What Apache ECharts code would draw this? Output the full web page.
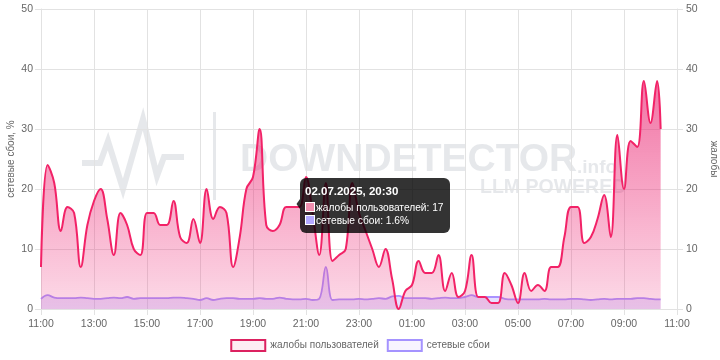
<!DOCTYPE html>
<html>
<head>
<meta charset="utf-8">
<script src="https://cdn.jsdelivr.net/npm/echarts@6/dist/echarts.min.js"></script>
<style>
html,body{margin:0;padding:0;background:#fff;}
#c{width:720px;height:360px;}
</style>
</head>
<body>
<div id="c"></div>
<script>
// time of each sample (02.07.2025 11:00 -> 03.07.2025 10:23)
const times = [
 '11:00','11:15','11:30','11:45','12:00','12:15','12:30','12:45',
 '13:00','13:15','13:30','13:45','14:00','14:15','14:30','14:45',
 '15:00','15:15','15:30','15:45','16:00','16:15','16:30','16:45',
 '17:00','17:15','17:30','17:45','18:00','18:15','18:30','18:45',
 '19:00','19:15','19:30','19:45','20:00','20:15','20:30','20:45',
 '21:00','21:15','21:30','21:45','22:00','22:15','22:30','22:45',
 '23:00','23:15','23:30','23:45','00:00','00:15','00:30','00:45',
 '01:00','01:15','01:30','01:45','02:00','02:15','02:30','02:45',
 '03:00','03:15','03:30','03:45','04:00','04:15','04:30','04:45',
 '05:00','05:15','05:30','05:45','06:00','06:15','06:30','06:45',
 '07:00','07:15','07:30','07:45','08:00','08:15','08:30','08:45',
 '09:00','09:15','09:30','09:45','10:00','10:15','10:23'
];
// жалобы пользователей
const complaints = [
 7,24,21,13,17,16,7,14,18,20,
 15,9,16,14,10,9,16,16,14,14,
 18,12,11,15,11,20,15,17,16,7,
 12,20,22,30,14,13,14,17,17,17,
 22,16,9,21,8,9,10,21,16,13,
 10,7,10,5,0,3,4,8,6,6,
 9,3,6,2,3,9,2,2,1,1,
 6,4,1,6,3,4,3,7,7,12,
 17,17,11,12,15,19,12,29,20,28,
 27,38,31,38,30
];
// сетевые сбои, %
const failures = [
 1.7,2.3,1.9,1.8,1.8,1.8,1.9,1.8,1.7,1.7,
 1.8,1.9,1.8,2.0,1.7,1.8,1.8,1.8,1.8,1.8,
 1.9,1.9,1.8,1.7,1.5,1.8,1.5,1.7,1.8,1.8,
 1.7,1.7,1.7,1.8,1.7,1.7,1.9,1.7,1.6,1.6,
 1.7,1.5,1.7,7.0,1.5,1.6,1.6,1.6,1.7,1.6,
 1.7,1.8,1.7,2.1,2.2,1.8,1.8,1.8,1.8,1.7,
 1.8,1.9,1.8,1.8,2.0,2.3,2.0,2.0,2.0,2.0,
 1.7,1.6,1.6,1.6,1.6,1.6,1.7,1.6,1.6,1.6,
 1.7,1.7,1.6,1.5,1.6,1.7,1.6,1.7,1.7,1.7,
 1.8,1.8,1.7,1.6,1.6
];
const seriesNames = ['жалобы пользователей', 'сетевые сбои'];
const yTicks = [0, 10, 20, 30, 40, 50];
const startHour = 11;
const tipIndex = 38;

function toMin(t) {
  const p = t.split(':');
  const m = (+p[0]) * 60 + (+p[1]) - startHour * 60;
  return (m + 1440) % 1440;
}
const xs = times.map(toMin);
const complaintData = xs.map((x, i) => [x, complaints[i]]);
const failureData = xs.map((x, i) => [x, failures[i]]);

const FONT = 'Liberation Sans, Arial, sans-serif';
const GRID = '#e2e2e2';
const LBL = '#666';
const WM = 'rgba(200,204,210,0.45)';

const chart = echarts.init(document.getElementById('c'), null, {renderer: 'canvas'});
chart.setOption({
  animation: false,
  textStyle: {fontFamily: FONT},
  grid: {left: 41, right: 43, top: 9, bottom: 51, containLabel: false, outerBoundsMode: 'none'},
  graphic: {
    elements: [
      {type: 'polyline', silent: true, z: 0,
       shape: {points: [[82,163],[100,163],[108,141],[123,189],[143,119],[157,176],[164,157],[184,157]]},
       style: {stroke: WM, lineWidth: 6, fill: null, lineJoin: 'miter'}},
      {type: 'rect', silent: true, z: 0, shape: {x: 213, y: 112, width: 3, height: 88}, style: {fill: WM}},
      {type: 'text', silent: true, z: 0, left: 240, top: 141,
       style: {text: 'DOWNDETECTOR', font: 'bold 39px ' + FONT, fill: WM}},
      {type: 'text', silent: true, z: 0, left: 577, top: 158,
       style: {text: '.info', font: 'bold 19px ' + FONT, fill: WM}},
      {type: 'text', silent: true, z: 0, left: 480, top: 178,
       style: {text: 'LLM POWERED', font: 'bold 19.5px ' + FONT, fill: WM}},
      // tooltip pointer arrow
      {type: 'polygon', silent: true, z: 100,
       shape: {points: [[296.5, 204], [300, 199], [300, 209]]},
       style: {fill: 'rgba(0,0,0,0.8)'}}
    ]
  },
  legend: {
    top: 334, left: 'center',
    itemWidth: 34, itemHeight: 11, itemGap: 8,
    icon: 'rect',
    textStyle: {color: LBL, fontSize: 10, fontFamily: FONT},
    data: [
      {name: seriesNames[0], itemStyle: {color: 'rgba(225,30,96,0.08)', borderColor: '#dc2160', borderWidth: 2}},
      {name: seriesNames[1], itemStyle: {color: 'rgba(150,130,255,0.08)', borderColor: '#a593ff', borderWidth: 2}}
    ]
  },
  tooltip: {
    trigger: 'axis',
    axisPointer: {type: 'none'},
    backgroundColor: 'rgba(0,0,0,0.8)',
    borderWidth: 0,
    padding: [6, 6, 6, 5],
    position: function () { return [300, 178]; },
    extraCssText: 'border-radius:6px;box-shadow:none;',
    formatter: function (params) {
      const i = params[0].dataIndex;
      const date = xs[i] < 780 ? '02.07.2025' : '03.07.2025';
      const box = (c) => '<span style="display:inline-block;width:10px;height:10px;background:' + c + ';border:1px solid #fff;box-sizing:border-box;vertical-align:-1px;margin-right:1px"></span>';
      return '<div style="font-family:' + FONT + ';color:#fff;font-size:10.2px;line-height:13px">' +
        '<div style="font-weight:bold;font-size:11.5px;line-height:14px;margin-bottom:3px">' + date + ', ' + times[i] + '</div>' +
        '<div>' + box('#f08fb0') + seriesNames[0] + ': ' + complaints[i] + '</div>' +
        '<div>' + box('#b3a8ff') + seriesNames[1] + ': ' + failures[i] + '%</div>' +
        '</div>';
    }
  },
  xAxis: {
    type: 'value', min: 0, max: 1440, interval: 120,
    axisLine: {show: true, lineStyle: {color: GRID}},
    axisTick: {show: true, length: 6, lineStyle: {color: GRID}},
    splitLine: {show: true, lineStyle: {color: GRID}},
    axisLabel: {
      color: LBL, fontSize: 10.5, margin: 10, fontFamily: FONT,
      formatter: function (v) { const h = (startHour + v / 60) % 24; return (h < 10 ? '0' : '') + h + ':00'; }
    }
  },
  yAxis: [
    {type: 'value', min: yTicks[0], max: yTicks[yTicks.length - 1], interval: 10, position: 'left',
     name: 'сетевые сбои, %', nameLocation: 'middle', nameGap: 25, nameMoveOverlap: false,
     nameTextStyle: {color: LBL, fontSize: 10, fontFamily: FONT},
     axisLine: {show: true, lineStyle: {color: GRID}},
     axisTick: {show: true, length: 6, lineStyle: {color: GRID}},
     splitLine: {show: true, lineStyle: {color: GRID}},
     axisLabel: {color: LBL, fontSize: 10.5, margin: 8, fontFamily: FONT}},
    {type: 'value', min: yTicks[0], max: yTicks[yTicks.length - 1], interval: 10, position: 'right',
     name: 'жалобы', nameLocation: 'middle', nameGap: 30, nameRotate: -90,
     nameTextStyle: {color: LBL, fontSize: 10, fontFamily: FONT},
     axisLine: {show: true, lineStyle: {color: GRID}},
     axisTick: {show: true, length: 6, lineStyle: {color: GRID}},
     splitLine: {show: false},
     axisLabel: {color: LBL, fontSize: 10.5, margin: 9, fontFamily: FONT}}
  ],
  series: [
    {
      name: seriesNames[0], type: 'line', yAxisIndex: 1, data: complaintData,
      smooth: 0.4, symbol: 'none', z: 4,
      lineStyle: {color: '#dc1f5e', width: 2},
      itemStyle: {color: '#dc1f5e'},
      areaStyle: {
        color: new echarts.graphic.LinearGradient(0, 0, 0, 1, [
          {offset: 0, color: 'rgba(212,32,102,0.9)'},
          {offset: 0.5, color: 'rgba(215,35,105,0.58)'},
          {offset: 1, color: 'rgba(218,40,110,0.25)'}
        ])
      }
    },
    {
      name: seriesNames[1], type: 'line', yAxisIndex: 0, data: failureData,
      smooth: 0.4, symbol: 'none', z: 3,
      lineStyle: {color: '#9b86ff', width: 1.8},
      itemStyle: {color: '#9b86ff'},
      areaStyle: {color: 'rgba(150,130,255,0.4)'}
    }
  ]
});
chart.dispatchAction({type: 'showTip', seriesIndex: 0, dataIndex: tipIndex});
</script>
</body>
</html>
